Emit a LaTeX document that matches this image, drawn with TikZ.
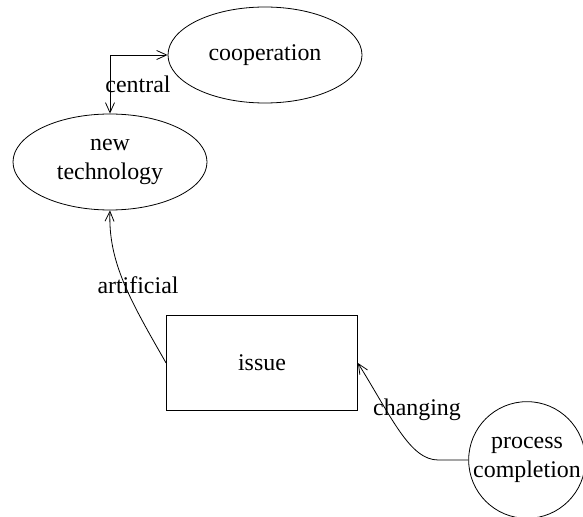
\documentclass[tikz,border=0pt]{standalone}
\usepackage{fontspec}
\setmainfont{Liberation Serif}
\usetikzlibrary{arrows.meta, positioning, shapes.geometric}

\begin{document}
\begin{tikzpicture}[x=1bp, y=-1bp, line width=0.8bp,
        every node/.style={font=\fontsize{24}{29}\selectfont},
        oval/.style={ellipse, draw=black, inner sep=0pt, minimum width=194bp, minimum height=96bp, align=center},
        box/.style={rectangle, draw=black, inner sep=0pt, minimum width=191bp, minimum height=95bp},
        ring/.style={circle, draw=black, inner sep=0pt, minimum size=110bp, align=center},
        link/.style={draw=black, {Straight Barb[length=10bp, width=9bp]}-{Straight Barb[length=10bp, width=9bp]}},
        arrowlink/.style={draw=black, -{Straight Barb[length=10bp, width=9bp]}},
        edgelabel/.style={inner sep=1pt}]
        \useasboundingbox (0,0) rectangle (583,517);

        \node[oval] (coop) at (265,55) {cooperation};
        \node[oval] (newtech) at (110,162) {new\\technology};
        \node[box] (issue) at (262,363) {issue};
        \node[ring] (proc) at (527,460) {process\\completion};

        \draw[link] (coop.west) -| (newtech.north);
        \draw[arrowlink] (issue.west) .. controls (130,300) and (108,262) .. (newtech.south);
        \draw[arrowlink] (proc.west) -- ++(-30,0) coordinate (bend)
            .. controls (410,460) and (392,418) .. (issue.east);

        \node[edgelabel] (lcentral) at (138,84) {central};
        \node[edgelabel] (lartificial) at (138,285) {artificial};
        \node[edgelabel] (lchanging) at (417,410) {changing};
    \end{tikzpicture}
\end{document}
